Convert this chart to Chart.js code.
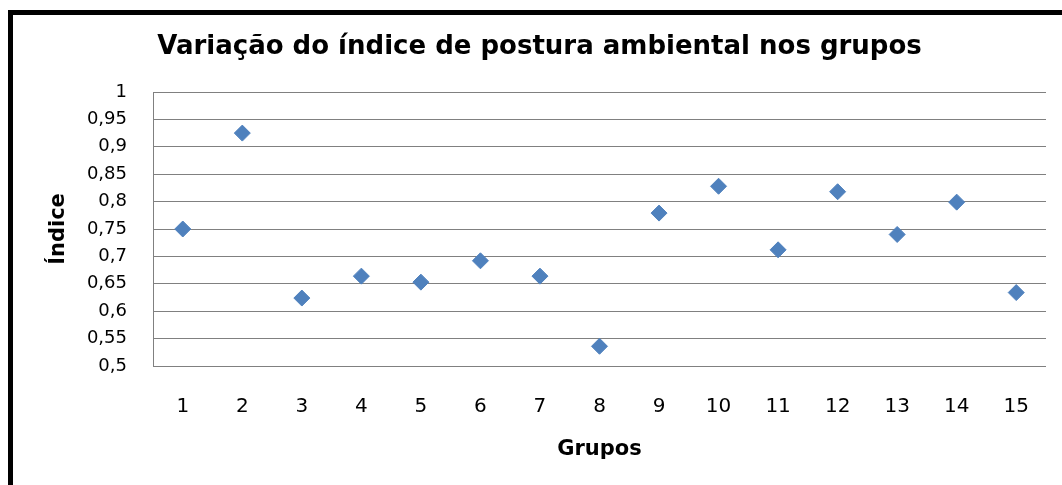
<!DOCTYPE html>
<html>
<head>
<meta charset="utf-8">
<script src="https://cdn.jsdelivr.net/npm/chart.js@4/dist/chart.umd.min.js"></script>
<style>
  html, body { margin: 0; padding: 0; background: #fff; }
  #frame {
    position: absolute;
    left: 8px;
    top: 10px;
    width: 1049px;
    height: 470px;
    border-left: 5px solid #000;
    border-top: 5px solid #000;
  }
  #frame canvas { display: block; }
</style>
</head>
<body>
<div id="frame"><canvas id="chart" width="1049" height="470"></canvas></div>
<script>
const grupos = ['1', '2', '3', '4', '5', '6', '7', '8', '9', '10', '11', '12', '13', '14', '15']
const indice = [0.75, 0.925, 0.624, 0.664, 0.653, 0.692, 0.664, 0.536, 0.779, 0.828, 0.712, 0.818, 0.740, 0.799, 0.634]
const yTickLabels = ['0,5', '0,55', '0,6', '0,65', '0,7', '0,75', '0,8', '0,85', '0,9', '0,95', '1']

const blue = '#4F81BD'
const gridGray = '#808080'

const config = {
  type: 'line',
  data: {
    labels: grupos,
    datasets: [
      {
        label: 'Índice',
        data: indice,
        showLine: false,
        pointStyle: 'rectRot',
        pointRadius: 8,
        pointBorderWidth: 1,
        backgroundColor: blue,
        borderColor: blue,
      },
    ],
  },
  options: {
    responsive: false,
    animation: false,
    layout: {
      // left padding nudges the centred title to the right
      padding: { left: 20, right: 16, top: 0, bottom: 0 },
    },
    plugins: {
      legend: { display: false },
      tooltip: { enabled: false },
      title: {
        display: true,
        text: 'Variação do índice de postura ambiental nos grupos',
        color: '#000',
        font: { family: 'DejaVu Sans', size: 26, weight: 'bold' },
        padding: { top: 17, bottom: 28.8 },
      },
    },
    scales: {
      x: {
        offset: true,
        grid: { display: false, drawTicks: false },
        border: { display: false },
        ticks: {
          color: '#000',
          padding: 29,
          font: { family: 'DejaVu Sans', size: 20 },
        },
        title: {
          display: true,
          text: 'Grupos',
          color: '#000',
          font: { family: 'DejaVu Sans', size: 21, weight: 'bold' },
          padding: { top: 0, bottom: 23 },
        },
        afterFit: (scale) => {
          scale.height = 119
        },
      },
      y: {
        min: 0.5,
        max: 1,
        grid: { color: gridGray, lineWidth: 1, drawTicks: false },
        border: { display: true, color: gridGray, width: 1 },
        ticks: {
          stepSize: 0.05,
          color: '#000',
          padding: 26,
          font: { family: 'DejaVu Sans', size: 18 },
          callback: (value, index) => yTickLabels[index],
        },
        title: {
          display: true,
          text: 'Índice',
          color: '#000',
          font: { family: 'DejaVu Sans', size: 21, weight: 'bold' },
          padding: { top: 13, bottom: 0 },
        },
        afterFit: (scale) => {
          scale.width = 120
        },
      },
    },
  },
}

new Chart(document.getElementById('chart').getContext('2d'), config)
</script>
</body>
</html>
